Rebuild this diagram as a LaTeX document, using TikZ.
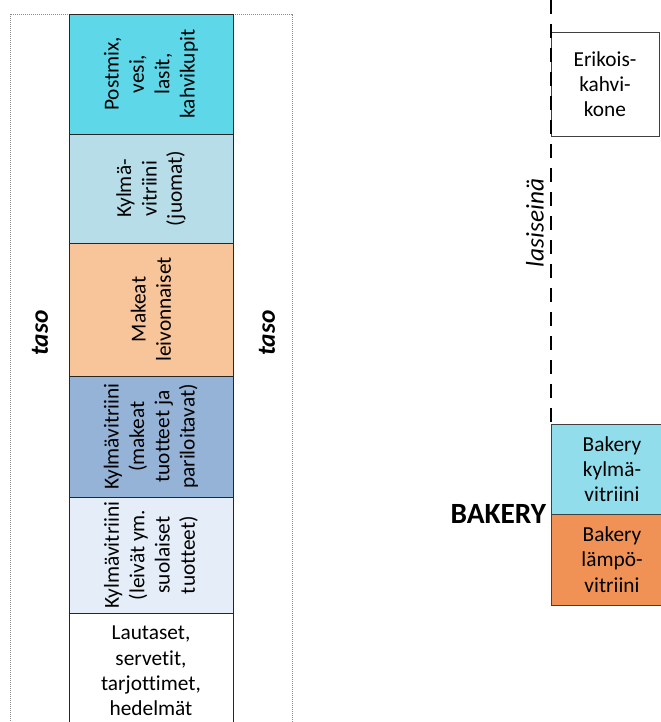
\documentclass[tikz,border=0pt]{standalone}
\usepackage{fontspec}
\setmainfont[Ligatures=NoCommon]{Carlito}
\usepackage{tikz}
\usetikzlibrary{positioning}

\definecolor{postmixc}{RGB}{94,215,232}
\definecolor{juomac}{RGB}{183,222,232}
\definecolor{makeatc}{RGB}{248,196,153}
\definecolor{parilac}{RGB}{149,179,215}
\definecolor{leivatc}{RGB}{229,237,248}
\definecolor{bkylmac}{RGB}{146,221,235}
\definecolor{blampoc}{RGB}{240,146,86}

\begin{document}
\begin{tikzpicture}[
			        shelf/.style={draw=black!85, line width=0.75pt, outer sep=0pt, inner sep=0pt, minimum width=123pt},
			        box/.style={draw=black!75, line width=0.75pt, outer sep=0pt, inner sep=0pt, anchor=north west, align=center, font=\fontsize{16}{19}\selectfont},
			        vtext/.style={rotate=90, align=center, font=\fontsize{16}{19}\selectfont},
			        side/.style={rotate=90, font=\fontsize{19}{23}\selectfont\bfseries\itshape},
			        wall/.style={line width=1.5pt, dash pattern=on 10.5pt off 7.5pt}
			        ]
			        \useasboundingbox (0,0) rectangle (495.75pt,-541.5pt);
			        \draw[black!45, line width=0.5pt, dash pattern=on 0.75pt off 0.75pt]
			              (7.5pt,-560pt) |- (219pt,-10.5pt) -- (219pt,-560pt);

			        \node[shelf, fill=postmixc, minimum height=90pt, anchor=north west] (postmix) at (51.75pt,-10.5pt) {};
			        \node[shelf, fill=juomac, minimum height=81.75pt, below=0pt of postmix] (juomat) {};
			        \node[shelf, fill=makeatc, minimum height=99.75pt, below=0pt of juomat] (makeat) {};
			        \node[shelf, fill=parilac, minimum height=90.75pt, below=0pt of makeat] (parila) {};
			        \node[shelf, fill=leivatc, minimum height=87pt, below=0pt of parila] (leivat) {};
			        \node[shelf, minimum height=87pt, below=0pt of leivat, align=center,
			              font=\fontsize{16}{19}\selectfont] (lautaset) {Lautaset,\\servetit,\\tarjottimet,\\hedelmät};

			        \node[vtext] (postmixtext) at (postmix) {Postmix,\\vesi,\\lasit,\\kahvikupit};
			        \node[vtext] (juomattext) at (juomat) {Kylmä-\\vitriini\\(juomat)};
			        \node[vtext] (makeattext) at (makeat) {Makeat\\leivonnaiset};
			        \node[vtext] (parilatext) at (parila) {Kylmävitriini\\(makeat\\tuotteet ja\\pariloitavat)};
			        \node[vtext] (leivattext) at (leivat) {Kylmävitriini\\(leivät ym.\\suolaiset\\tuotteet)};

			        \node[side] (tasoleft) at (30pt,-249.75pt) {taso};
			        \node[side] (tasoright) at (200.25pt,-249.75pt) {taso};

			        \coordinate (walltop) at (413.25pt,0pt);
			        \node[box, minimum width=81pt, minimum height=78pt] (kone) at (413.25pt,-24pt) {Erikois-\\kahvi-\\kone};
			        \node[box, fill=bkylmac, minimum width=91.5pt, minimum height=67.5pt] (bkylma) at (413.25pt,-318pt) {Bakery\\kylmä-\\vitriini};
			        \node[box, fill=blampoc, minimum width=91.5pt, minimum height=68.25pt, below=0pt of bkylma] (blampo) {Bakery\\lämpö-\\vitriini};
			        \draw[wall] (walltop) -- (bkylma.north west);

			        \node[rotate=90, font=\fontsize{19}{23}\selectfont\itshape] (lasi) at (401.25pt,-167.25pt) {lasiseinä};
			        \node[inner sep=0pt, font=\fontsize{22}{26}\selectfont\bfseries, left=3.5pt of bkylma.south west] (bakery) {BAKERY};
			    \end{tikzpicture}
\end{document}
